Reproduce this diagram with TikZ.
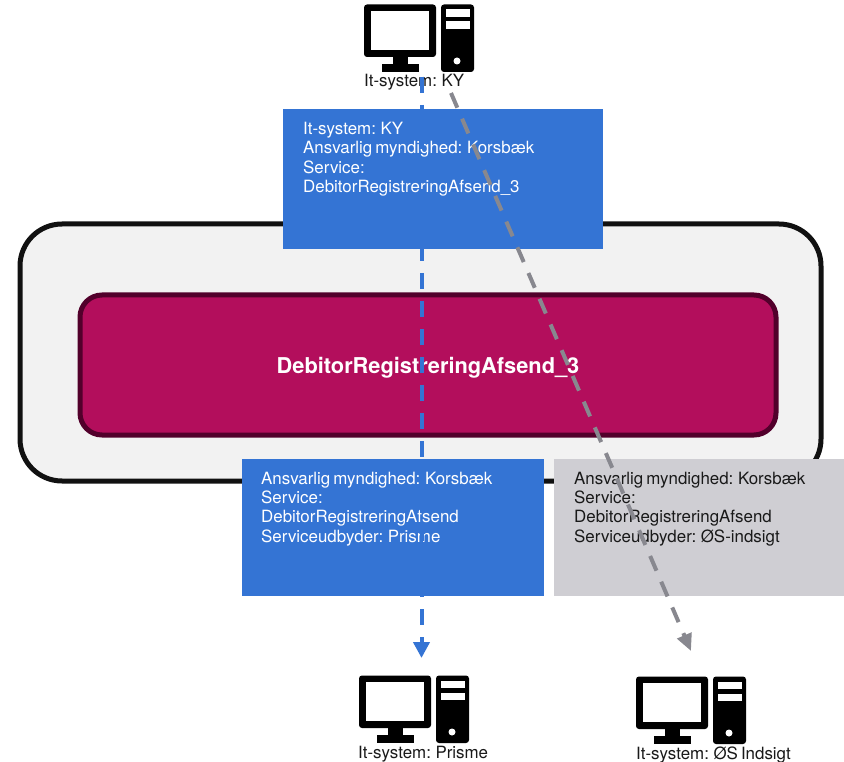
\documentclass[tikz,border=0pt]{standalone}
\usepackage{fontspec}
\setmainfont{TeX Gyre Heros}[WordSpace=0.65]
\usetikzlibrary{arrows.meta}
\definecolor{boxblue}{HTML}{3474D4}
\definecolor{boxgrey}{HTML}{CFCED3}
\definecolor{linegrey}{HTML}{88888F}
\definecolor{magentafill}{HTML}{B30E5C}
\definecolor{magentaline}{HTML}{52002B}
\definecolor{panelfill}{HTML}{F2F2F2}
\definecolor{inkblack}{HTML}{111111}
\tikzset{
  x=1pt,y=-1pt,
  panelbox/.style={draw=inkblack,line width=5pt,fill=panelfill,rounded corners=42pt},
  servicebox/.style={draw=magentaline,line width=5pt,fill=magentafill,rounded corners=22pt},
  infoblue/.style={fill=boxblue,draw=none},
  infogrey/.style={fill=boxgrey,draw=none},
  infotext/.style={anchor=north west,inner sep=0pt,align=left,font=\fontsize{16.9}{19.4}\selectfont},
  systemlabel/.style={anchor=base west,inner sep=0pt,text=black!90,font=\fontsize{16.9}{19.4}\selectfont},
  flowblue/.style={draw=boxblue,line width=4pt,dash pattern=on 16pt off 12pt,-{Triangle[length=16pt,width=16pt]}},
  flowgrey/.style={draw=linegrey,line width=4pt,dash pattern=on 16pt off 12pt,-{Triangle[length=17pt,width=15pt]}},
  computer/.pic={
    \fill[black,rounded corners=3pt] (0,0) rectangle (72,52.5);
    \fill[white] (7,6.5) rectangle (65,45.5);
    \fill[black] (29,52) rectangle (44,60);
    \fill[black] (18,59.5) rectangle (55,67.5);
    \fill[black,rounded corners=3pt] (77,0) rectangle (110,67.5);
    \fill[white] (82,5) rectangle (106,12.5);
    \fill[white] (82,17) rectangle (106,24.5);
    \fill[white] (93,56.5) circle (3.5);
  }
}
\begin{document}
\begin{tikzpicture}
\useasboundingbox (0,0) rectangle (844,762);
\fill[white] (0,0) rectangle (844,762);

\draw[panelbox] (20,224) rectangle (821,481);
\draw[servicebox] (80,295) rectangle (776,435);
\node[anchor=center,inner sep=0pt,text=white,font=\bfseries\fontsize{21.8}{24}\selectfont] (title) at (428,368) {DebitorRegistreringAfsend\_3};

\pic at (364,4.5) {computer};
\pic at (359,675.5) {computer};
\pic at (636,676.5) {computer};

\node[systemlabel] (kylabel) at (364,87) {It-system: KY};
\node[systemlabel] (prismelabel) at (358,758) {It-system: Prisme};
\node[systemlabel] (oslabel) at (636,759) {It-system: ØS Indsigt};

\fill[infoblue] (283,109) rectangle (603,249);
\fill[infoblue] (242,459) rectangle (544,596);
\fill[infogrey] (554,459) rectangle (844,596);

\node[infotext,text=white] (kyinfo) at (303,122) {It-system: KY\\Ansvarlig myndighed: Korsbæk\\Service:\\DebitorRegistreringAfsend\_3};
\node[infotext,text=white] (prismeinfo) at (261,471.5) {Ansvarlig myndighed: Korsbæk\\Service:\\DebitorRegistreringAfsend\\Serviceudbyder: Prisme};
\node[infotext,text=black!90] (osinfo) at (574,471.5) {Ansvarlig myndighed: Korsbæk\\Service:\\DebitorRegistreringAfsend\\Serviceudbyder: ØS-indsigt};

\coordinate (kyblue) at (421.5,77);
\coordinate (kygrey) at (451,93);
\coordinate (prismein) at (421.5,658);
\coordinate (osin) at (691,651);
\draw[flowblue] (kyblue) -- (prismein);
\draw[flowgrey] (kygrey) -- (osin);
\end{tikzpicture}
\end{document}
